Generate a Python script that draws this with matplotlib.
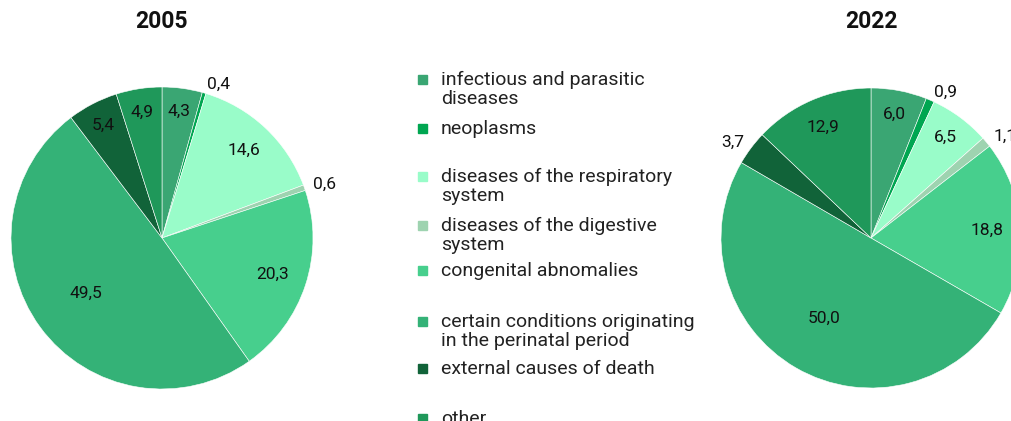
import matplotlib.pyplot as plt
import numpy as np
from matplotlib.patches import Rectangle

plt.rcParams['font.family'] = ['Roboto', 'DejaVu Sans']

categories = ['infectious and parasitic\ndiseases', 'neoplasms',
              'diseases of the respiratory\nsystem', 'diseases of the digestive\nsystem',
              'congenital abnomalies', 'certain conditions originating\nin the perinatal period',
              'external causes of death', 'other']
colors = ['#3aa673', '#00a651', '#99fcc9', '#9ed3b0', '#47cf8d', '#34b277', '#116339', '#1f985a']
years = ['2005', '2022']
vals_2005 = [4.3, 0.4, 14.6, 0.6, 20.3, 49.5, 5.4, 4.9]
vals_2022 = [6.0, 0.9, 6.5, 1.1, 18.8, 50.0, 3.7, 12.9]

W, H = 1011, 421
fig = plt.figure(figsize=(W / 100, H / 100), dpi=100)


def draw_pie(cx, cy, r, vals, title):
    ax = fig.add_axes([(cx - r) / W, (H - cy - r) / H, 2 * r / W, 2 * r / H])
    ax.pie(vals, colors=colors, startangle=90, counterclock=False, radius=1,
           wedgeprops=dict(edgecolor='white', linewidth=0.4))
    ax.set_xlim(-1, 1)
    ax.set_ylim(-1, 1)
    ax.set_aspect('equal')
    ax.axis('off')
    total = sum(vals)
    cum = 0
    for v in vals:
        mid = (cum + v / 2) / total * 2 * np.pi
        cum += v
        s = f'{v:.1f}'.replace('.', ',')
        dx, dy = np.sin(mid), np.cos(mid)
        if v < 4:
            # small slices get their label outside
            ha = 'left' if dx > 0 else 'right'
            ax.text(1.06 * dx, 1.06 * dy, s, ha=ha, va='center', fontsize=12.5,
                    color='#111111', clip_on=False)
        else:
            rr = 0.87 - 0.005 * v
            ax.text(rr * dx, rr * dy, s, ha='center', va='center', fontsize=12.5, color='#111111')
    fig.text(cx / W, 1 - 22 / H, title, ha='center', va='center', fontsize=16.5,
             fontweight='bold', color='#111111')


draw_pie(162, 238, 151, vals_2005, years[0])
draw_pie(871, 238, 150, vals_2022, years[1])

# legend
leg_y = [79, 128, 176, 225, 270, 321, 368, 418]
for lab, col, y in zip(categories, colors, leg_y):
    fig.patches.append(Rectangle((418 / W, (H - y - 4.5) / H), 9 / W, 9 / H,
                                 transform=fig.transFigure, color=col))
    fig.text(441 / W, (H - y + 8) / H, lab, ha='left', va='top', fontsize=14,
             color='#222222', linespacing=1.05)

fig.savefig('out.png', dpi=100)
